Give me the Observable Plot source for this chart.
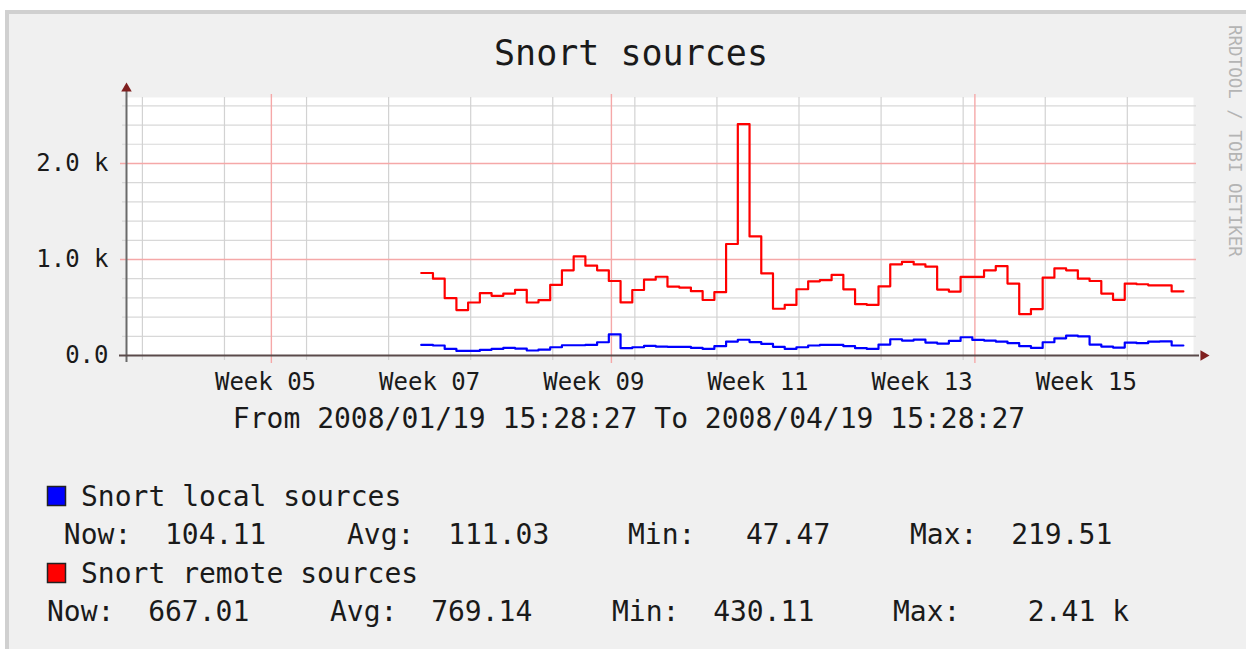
<!DOCTYPE html>
<html><head><meta charset="utf-8">
<script src="https://cdn.jsdelivr.net/npm/d3@7"></script>
<script src="https://cdn.jsdelivr.net/npm/@observablehq/plot@0.6"></script>
<style>
html,body{margin:0;padding:0;background:#fff;}
#wrap{position:relative;width:1246px;height:649px;overflow:hidden;background:#fff;}
#bg{position:absolute;left:5px;top:10px;width:1241px;height:639px;background:#f0f0f0;border-top:4px solid #d0d0d0;border-left:4px solid #d0d0d0;box-sizing:border-box;}
#chart,#overlay{position:absolute;left:0;top:0;}
</style></head><body>
<div id="wrap"><div id="bg"></div><div id="chart"></div><svg id="overlay" width="1246" height="649"></svg></div>
<script>
// ---- texts ----
const titleText = "Snort sources";
const rangeText = "From 2008/01/19 15:28:27 To 2008/04/19 15:28:27";
const watermark = "RRDTOOL / TOBI OETIKER";

// ---- time axis ----
const startTime = new Date("2008-01-19T15:28:27Z");
const endTime = new Date("2008-04-19T15:28:27Z");
const weekStarts = ["2008-01-21","2008-01-28","2008-02-04","2008-02-11","2008-02-18","2008-02-25","2008-03-03","2008-03-10","2008-03-17","2008-03-24","2008-03-31","2008-04-07","2008-04-14"];
const monthStarts = ["2008-02-01","2008-03-01","2008-04-01"];
const weekLabelDates = ["2008-01-31T12:00Z","2008-02-14T12:00Z","2008-02-28T12:00Z","2008-03-13T12:00Z","2008-03-27T12:00Z","2008-04-10T12:00Z"];
const weekLabelText = ["Week 05","Week 07","Week 09","Week 11","Week 13","Week 15"];

// ---- value axis ----
const yMax = 2687;
const minorY = [200,400,600,800,1200,1400,1600,1800,2200,2400,2600];
const majorY = [1000,2000];
const yTickValues = [0,1000,2000];
const yTickLabels = ["0.0","1.0 k","2.0 k"];

// ---- series (one value per day, from 2008-02-13) ----
const seriesStart = "2008-02-13T18:45:00Z";
const localSources = [110,104,69,48,47.47,59,69,79,72,52,62,86,107,107,110,138,219.51,76,86,100,93,90,90,79,69,97,145,164,140,121,90,69,86,104,110,110,97,76,69,114,169,155,166,135,124,152,190,162,155,145,128,97,79,138,179,207,200,114,93,83,135,128,145,148,104.11];
const remoteSources = [859,800,597,473,552,649,621,645,683,552,576,735,887,1032,935,887,776,553,682,790,820,718,707,670,578,660,1161,2410,1240,855,487,527,690,772,785,840,689,535,527,720,950,976,949,925,687,666,818,818,887,931,749,430.11,483,811,907,887,800,776,645,580,749,742,731,731,667.01];

// ---- legend ----
const legendNames = ["Snort local sources","Snort remote sources"];
const legendColors = ["#0000ff","#ff0000"];
const statLabels = ["Now:","Avg:","Min:","Max:"];
const localStats = ["104.11","111.03","47.47","219.51"];
const remoteStats = ["667.01","769.14","430.11","2.41 k"];

// ---- build tables ----
const DAY = 86400000;
function rows(values) {
  const t0 = new Date(seriesStart).getTime();
  const r = values.map((v, i) => ({t: new Date(t0 + i * DAY), v}));
  r.push({t: new Date(t0 + values.length * DAY), v: values[values.length - 1]});
  return r;
}
const localRows = rows(localSources);
const remoteRows = rows(remoteSources);
const yTickRows = yTickValues.map((v, i) => ({v, label: yTickLabels[i]}));
const weekRows = weekLabelDates.map((d, i) => ({t: new Date(d), label: weekLabelText[i]}));
const toDates = a => a.map(d => new Date(d + "T00:00:00Z"));

const axisColor = "#5a4a4a";
const arrowColor = "#7f1f1f";
const majorColor = "#f5a8a8";

const chart = Plot.plot({
  width: 1246, height: 400,
  marginLeft: 126, marginRight: 53, marginTop: 97, marginBottom: 45,
  x: {type: "utc", domain: [startTime, endTime], axis: null},
  y: {domain: [0, yMax], axis: null},
  style: {background: "transparent", fontFamily: "DejaVu Sans Mono", fontSize: "24px", overflow: "visible", color: "#111"},
  marks: [
    Plot.frame({fill: "#ffffff", stroke: "none"}),
    Plot.ruleY(minorY, {stroke: "#d8d8d8", strokeWidth: 1.2, insetLeft: -4, insetRight: -3}),
    Plot.ruleX(toDates(weekStarts), {stroke: "#d2d2d2", strokeWidth: 1.2, insetBottom: -5}),
    Plot.ruleY(majorY, {stroke: majorColor, strokeWidth: 1.4, insetLeft: -6, insetRight: -3}),
    Plot.ruleX(toDates(monthStarts), {stroke: majorColor, strokeWidth: 1.4, insetBottom: -8, insetTop: -3}),
    Plot.line(localRows, {x: "t", y: "v", curve: "step-after", stroke: "#0000ff", strokeWidth: 2.2}),
    Plot.line(remoteRows, {x: "t", y: "v", curve: "step-after", stroke: "#ff0000", strokeWidth: 2.2}),
    Plot.ruleX([startTime], {stroke: "#6a6a6a", strokeWidth: 2, insetTop: -6, insetBottom: -7}),
    Plot.ruleY([0], {stroke: axisColor, strokeWidth: 2, insetLeft: -7, insetRight: -6}),
    Plot.dot([{t: startTime, v: yMax}], {x: "t", y: "v", symbol: "triangle", r: 3.9, fill: arrowColor, stroke: "none", dy: -9}),
    Plot.dot([{t: endTime, v: 0}], {x: "t", y: "v", symbol: "triangle", r: 3.9, rotate: 90, fill: arrowColor, stroke: "none", dx: 10}),
    Plot.text(yTickRows, {y: "v", text: "label", frameAnchor: "left", textAnchor: "end", dx: -18, fontSize: 24, fill: "#1a1a1a"}),
    Plot.text(weekRows, {x: "t", text: "label", frameAnchor: "bottom", lineAnchor: "top", dy: 17, fontSize: 24, fill: "#1a1a1a"})
  ]
});
document.getElementById("chart").appendChild(chart);

// ---- surrounding texts ----
const ov = d3.select("#overlay").attr("font-family", "DejaVu Sans Mono").attr("fill", "#1a1a1a");
ov.append("text").attr("x", 631).attr("y", 65).attr("text-anchor", "middle").attr("font-size", 35).text(titleText);
ov.append("text").attr("x", 629).attr("y", 428).attr("text-anchor", "middle").attr("font-size", 28).text(rangeText);
ov.append("text").attr("transform", "translate(1229,25) rotate(90)").attr("font-size", 17.5).attr("fill", "#b4b4b4").text(watermark);

const nameBaselines = [506, 583];
const statBaselines = [544, 621];
const statX = [[47, 347, 628, 910], [47, 330, 612, 893]];
const statPad = [["  ", "  ", "   ", "  "], ["  ", "  ", "  ", "    "]];
const statLead = [" ", ""];
const allStats = [localStats, remoteStats];
legendNames.forEach((name, s) => {
  ov.append("rect").attr("x", 47.5).attr("y", nameBaselines[s] - 19.5).attr("width", 18).attr("height", 19)
    .attr("fill", legendColors[s]).attr("stroke", "#222").attr("stroke-width", 1.5);
  ov.append("text").attr("x", 81).attr("y", nameBaselines[s]).attr("font-size", 28).text(name);
  statLabels.forEach((lab, j) => {
    ov.append("text").attr("x", statX[s][j]).attr("y", statBaselines[s]).attr("font-size", 28)
      .attr("xml:space", "preserve").style("white-space", "pre")
      .text((j === 0 ? statLead[s] : "") + lab + statPad[s][j] + allStats[s][j]);
  });
});
</script>
</body></html>
